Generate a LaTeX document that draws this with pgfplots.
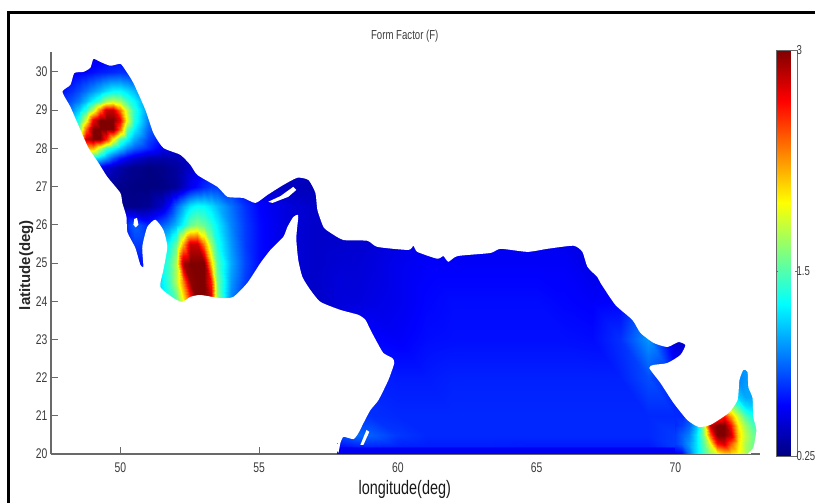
\documentclass[border=0pt]{standalone}
\usepackage{pgfplots}
\pgfplotsset{compat=1.18}
\usepackage{fontspec}
\setmainfont{Liberation Sans}
\newfontfamily\narrow[FakeStretch=0.74]{Liberation Sans}
\definecolor{tickgrey}{RGB}{60,60,60}
\definecolor{linegrey}{RGB}{105,105,105}
\begin{document}
\begin{tikzpicture}[x=1pt,y=1pt]
\path[use as bounding box] (0,0) rectangle (815,503);
\begin{axis}[
  at={(51pt,49pt)}, anchor=south west,
  scale only axis, width=709pt, height=402pt,
  xmin=47.5, xmax=73.05, ymin=20, ymax=30.52,
  axis x line*=bottom, axis y line*=left,
  axis line style={-, linegrey, line width=1.1pt},
  xtick={50,55,60,65,70}, ytick={20,21,...,30},
  tick align=inside, major tick length=7pt,
  tick style={linegrey, line width=0.8pt},
  /pgf/number format/assume math mode=true,
  tick label style={font=\narrow\fontsize{14}{15}\selectfont, text=tickgrey},
  xticklabel style={yshift=-5pt},
  yticklabel style={xshift=0pt},
  title={Form Factor (F)},
  title style={font=\narrow\fontsize{13}{14}\selectfont, text=tickgrey, at={(axis description cs:0.499,1.0246)}, anchor=center},
  xlabel={longitude(deg)},
  xlabel style={font=\narrow\fontsize{19.5}{21}\selectfont, text=black!90, at={(axis description cs:0.499,-0.087)}, anchor=center},
  ylabel={latitude(deg)},
  ylabel style={font=\bfseries\fontsize{15}{17}\selectfont, text=black!85, at={(axis description cs:-0.035,0.47)}, anchor=center},
  colormap/jet,
  point meta min=0.25, point meta max=3,
  colorbar,
  colorbar style={
    at={(1.0226,-0.005)}, anchor=south west,
    width=21pt, height=406pt,
    ytick={0.25,1.5,3}, yticklabels={0.25,1.5,3},
    ticklabel pos=right,
    tick align=inside, major tick length=2pt,
    axis line style={linegrey},
    tick style={linegrey},
    yticklabel style={font=\narrow\fontsize{13}{14}\selectfont, text=tickgrey, xshift=-4pt},
  },
]
% Arabian Sea
\addplot[surf, shader=interp, mesh/cols=13, point meta=explicit] table[x index=0, y index=1, meta index=2, row sep=\\] {
57.82 20 .56\\ 58.5 20 .56\\ 59 20 .56\\ 60 20 .56\\ 61 20 .56\\ 62 20 .56\\ 63 20 .56\\ 65 20 .56\\ 66 20 .56\\ 67 20 .56\\ 68 20 .56\\ 69 20 .56\\ 70 20 .56\\
57.82 20.17 .56\\ 58.5 20.17 .56\\ 59 20.17 .56\\ 60 20.17 .56\\ 61 20.17 .56\\ 62 20.17 .56\\ 63 20.17 .56\\ 65 20.17 .56\\ 66 20.17 .56\\ 67 20.17 .56\\ 68 20.17 .56\\ 69 20.17 .56\\ 70 20.17 .6\\
57.82 20.22 .62\\ 58.5 20.22 .68\\ 59 20.22 .7\\ 60 20.22 .68\\ 61 20.22 .67\\ 62 20.22 .67\\ 63 20.22 .67\\ 65 20.22 .66\\ 66 20.22 .66\\ 67 20.22 .66\\ 68 20.22 .66\\ 69 20.22 .66\\ 70 20.22 .75\\
57.82 20.5 .8\\ 58.5 20.5 .88\\ 59 20.5 .85\\ 60 20.5 .74\\ 61 20.5 .7\\ 62 20.5 .7\\ 63 20.5 .7\\ 65 20.5 .7\\ 66 20.5 .7\\ 67 20.5 .7\\ 68 20.5 .7\\ 69 20.5 .7\\ 70 20.5 .75\\
57.82 21 .72\\ 58.5 21 .72\\ 59 21 .72\\ 60 21 .7\\ 61 21 .7\\ 62 21 .7\\ 63 21 .7\\ 65 21 .7\\ 66 21 .7\\ 67 21 .7\\ 68 21 .7\\ 69 21 .7\\ 70 21 .7\\
57.82 22 .68\\ 58.5 22 .68\\ 59 22 .68\\ 60 22 .66\\ 61 22 .66\\ 62 22 .68\\ 63 22 .68\\ 65 22 .68\\ 66 22 .68\\ 67 22 .68\\ 68 22 .68\\ 69 22 .8\\ 70 22 .65\\
57.82 23 .6\\ 58.5 23 .6\\ 59 23 .6\\ 60 23 .58\\ 61 23 .62\\ 62 23 .63\\ 63 23 .63\\ 65 23 .63\\ 66 23 .63\\ 67 23 .62\\ 68 23 .72\\ 69 23 1\\ 70 23 .45\\
57.82 24 .5\\ 58.5 24 .5\\ 59 24 .52\\ 60 24 .55\\ 61 24 .6\\ 62 24 .62\\ 63 24 .62\\ 65 24 .62\\ 66 24 .6\\ 67 24 .58\\ 68 24 .6\\ 69 24 .7\\ 70 24 .7\\
57.82 25 .48\\ 58.5 25 .48\\ 59 25 .5\\ 60 25 .55\\ 61 25 .58\\ 62 25 .58\\ 63 25 .58\\ 65 25 .58\\ 66 25 .58\\ 67 25 .52\\ 68 25 .5\\ 69 25 .55\\ 70 25 .6\\
57.82 26 .45\\ 58.5 26 .45\\ 59 26 .45\\ 60 26 .48\\ 61 26 .5\\ 62 26 .52\\ 63 26 .52\\ 65 26 .52\\ 66 26 .52\\ 67 26 .5\\ 68 26 .55\\ 69 26 .6\\ 70 26 .6\\
};
% Gulf of Khambhat end
\addplot[surf, shader=interp, mesh/cols=13, point meta=explicit] table[x index=0, y index=1, meta index=2, row sep=\\] {
70 20 .56\\ 70.25 20 .6\\ 70.5 20 .9\\ 70.75 20 1.2\\ 71 20 1.45\\ 71.25 20 1.7\\ 71.5 20 1.9\\ 71.75 20 2.05\\ 72 20 2.05\\ 72.25 20 1.95\\ 72.5 20 1.75\\ 72.75 20 1.6\\ 73 20 1.55\\
70 20.25 .75\\ 70.25 20.25 .85\\ 70.5 20.25 1\\ 70.75 20.25 1.2\\ 71 20.25 1.5\\ 71.25 20.25 1.9\\ 71.5 20.25 2.6\\ 71.75 20.25 2.75\\ 72 20.25 2.4\\ 72.25 20.25 2.05\\ 72.5 20.25 1.75\\ 72.75 20.25 1.6\\ 73 20.25 1.55\\
70 20.5 .75\\ 70.25 20.5 .85\\ 70.5 20.5 .95\\ 70.75 20.5 1.2\\ 71 20.5 1.6\\ 71.25 20.5 2.4\\ 71.5 20.5 3\\ 71.75 20.5 3\\ 72 20.5 2.8\\ 72.25 20.5 2.1\\ 72.5 20.5 1.8\\ 72.75 20.5 1.6\\ 73 20.5 1.5\\
70 20.75 .7\\ 70.25 20.75 .75\\ 70.5 20.75 .85\\ 70.75 20.75 1.1\\ 71 20.75 1.7\\ 71.25 20.75 2.8\\ 71.5 20.75 3\\ 71.75 20.75 3\\ 72 20.75 2.6\\ 72.25 20.75 2\\ 72.5 20.75 1.7\\ 72.75 20.75 1.5\\ 73 20.75 1.45\\
70 21 .7\\ 70.25 21 .7\\ 70.5 21 .8\\ 70.75 21 1\\ 71 21 1.4\\ 71.25 21 2\\ 71.5 21 2.4\\ 71.75 21 2.6\\ 72 21 2.2\\ 72.25 21 1.8\\ 72.5 21 1.5\\ 72.75 21 1.35\\ 73 21 1.3\\
70 21.25 .7\\ 70.25 21.25 .7\\ 70.5 21.25 .75\\ 70.75 21.25 .9\\ 71 21.25 1.2\\ 71.25 21.25 1.5\\ 71.5 21.25 1.7\\ 71.75 21.25 1.8\\ 72 21.25 1.7\\ 72.25 21.25 1.45\\ 72.5 21.25 1.2\\ 72.75 21.25 1.15\\ 73 21.25 1.1\\
70 21.5 .7\\ 70.25 21.5 .7\\ 70.5 21.5 .7\\ 70.75 21.5 .85\\ 71 21.5 1\\ 71.25 21.5 1.2\\ 71.5 21.5 1.3\\ 71.75 21.5 1.3\\ 72 21.5 1.25\\ 72.25 21.5 1.15\\ 72.5 21.5 1.05\\ 72.75 21.5 1.05\\ 73 21.5 1.05\\
70 22 .65\\ 70.25 22 .7\\ 70.5 22 .7\\ 70.75 22 .8\\ 71 22 .9\\ 71.25 22 1\\ 71.5 22 1\\ 71.75 22 1\\ 72 22 1\\ 72.25 22 .95\\ 72.5 22 1\\ 72.75 22 1\\ 73 22 1\\
70 23 .45\\ 70.25 23 .45\\ 70.5 23 .45\\ 70.75 23 .8\\ 71 23 1\\ 71.25 23 1\\ 71.5 23 1\\ 71.75 23 1\\ 72 23 1\\ 72.25 23 1\\ 72.5 23 1\\ 72.75 23 1\\ 73 23 1\\
};
% Gulf, southern part
\addplot[surf, shader=interp, mesh/cols=19, point meta=explicit] table[x index=0, y index=1, meta index=2, row sep=\\] {
49.5 23.75 .5\\ 50 23.75 .55\\ 50.5 23.75 .7\\ 51 23.75 1\\ 51.5 23.75 1.2\\ 51.75 23.75 1.35\\ 52 23.75 1.5\\ 52.25 23.75 1.95\\ 52.5 23.75 2.5\\ 52.75 23.75 3\\ 53 23.75 3\\ 53.25 23.75 2.8\\ 53.5 23.75 1.7\\ 54 23.75 .95\\ 54.5 23.75 .7\\ 55 23.75 .6\\ 56 23.75 .5\\ 57 23.75 .45\\ 58 23.75 .5\\
49.5 24 .5\\ 50 24 .55\\ 50.5 24 .7\\ 51 24 1\\ 51.5 24 1.2\\ 51.75 24 1.35\\ 52 24 1.5\\ 52.25 24 1.95\\ 52.5 24 2.5\\ 52.75 24 3\\ 53 24 3\\ 53.25 24 2.8\\ 53.5 24 1.7\\ 54 24 .95\\ 54.5 24 .7\\ 55 24 .6\\ 56 24 .5\\ 57 24 .45\\ 58 24 .5\\
49.5 24.5 .5\\ 50 24.5 .55\\ 50.5 24.5 .7\\ 51 24.5 .9\\ 51.5 24.5 1.25\\ 51.75 24.5 1.45\\ 52 24.5 1.75\\ 52.25 24.5 2.3\\ 52.5 24.5 2.95\\ 52.75 24.5 3\\ 53 24.5 3\\ 53.25 24.5 2.6\\ 53.5 24.5 1.6\\ 54 24.5 1\\ 54.5 24.5 .75\\ 55 24.5 .6\\ 56 24.5 .5\\ 57 24.5 .45\\ 58 24.5 .5\\
49.5 25 .5\\ 50 25 .55\\ 50.5 25 .6\\ 51 25 .65\\ 51.5 25 1.3\\ 51.75 25 1.45\\ 52 25 1.75\\ 52.25 25 2.9\\ 52.5 25 3\\ 52.75 25 3\\ 53 25 3\\ 53.25 25 2.1\\ 53.5 25 1.5\\ 54 25 1.05\\ 54.5 25 .78\\ 55 25 .62\\ 56 25 .5\\ 57 25 .45\\ 58 25 .48\\
49.5 25.5 .5\\ 50 25.5 .6\\ 50.5 25.5 .75\\ 51 25.5 .75\\ 51.5 25.5 1.2\\ 51.75 25.5 1.3\\ 52 25.5 1.55\\ 52.25 25.5 2.2\\ 52.5 25.5 2.8\\ 52.75 25.5 2.8\\ 53 25.5 2.3\\ 53.25 25.5 1.7\\ 53.5 25.5 1.35\\ 54 25.5 1\\ 54.5 25.5 .75\\ 55 25.5 .62\\ 56 25.5 .5\\ 57 25.5 .45\\ 58 25.5 .46\\
49.5 26 .4\\ 50 26 .6\\ 50.5 26 .85\\ 51 26 .7\\ 51.5 26 .85\\ 51.75 26 .95\\ 52 26 1.1\\ 52.25 26 1.3\\ 52.5 26 1.55\\ 52.75 26 1.65\\ 53 26 1.55\\ 53.25 26 1.4\\ 53.5 26 1.25\\ 54 26 .95\\ 54.5 26 .75\\ 55 26 .62\\ 56 26 .5\\ 57 26 .45\\ 58 26 .45\\
49.5 26.5 .36\\ 50 26.5 .3\\ 50.5 26.5 .28\\ 51 26.5 .31\\ 51.5 26.5 .45\\ 51.75 26.5 .62\\ 52 26.5 .85\\ 52.25 26.5 1.05\\ 52.5 26.5 1.22\\ 52.75 26.5 1.3\\ 53 26.5 1.28\\ 53.25 26.5 1.2\\ 53.5 26.5 1.1\\ 54 26.5 .9\\ 54.5 26.5 .72\\ 55 26.5 .6\\ 56 26.5 .5\\ 57 26.5 .45\\ 58 26.5 .45\\
49.5 27 .33\\ 50 27 .28\\ 50.5 27 .26\\ 51 27 .25\\ 51.5 27 .26\\ 51.75 27 .28\\ 52 27 .32\\ 52.25 27 .42\\ 52.5 27 .55\\ 52.75 27 .62\\ 53 27 .7\\ 53.25 27 .75\\ 53.5 27 .75\\ 54 27 .7\\ 54.5 27 .6\\ 55 27 .5\\ 56 27 .42\\ 57 27 .4\\ 58 27 .4\\
49.5 27.5 .55\\ 50 27.5 .36\\ 50.5 27.5 .29\\ 51 27.5 .26\\ 51.5 27.5 .28\\ 51.75 27.5 .3\\ 52 27.5 .33\\ 52.25 27.5 .38\\ 52.5 27.5 .45\\ 52.75 27.5 .52\\ 53 27.5 .56\\ 53.25 27.5 .58\\ 53.5 27.5 .6\\ 54 27.5 .6\\ 54.5 27.5 .55\\ 55 27.5 .5\\ 56 27.5 .45\\ 57 27.5 .4\\ 58 27.5 .4\\
49.5 28 1.5\\ 50 28 1.15\\ 50.5 28 .85\\ 51 28 .7\\ 51.5 28 .55\\ 51.75 28 .5\\ 52 28 .45\\ 52.25 28 .45\\ 52.5 28 .45\\ 52.75 28 .5\\ 53 28 .5\\ 53.25 28 .5\\ 53.5 28 .5\\ 54 28 .5\\ 54.5 28 .5\\ 55 28 .5\\ 56 28 .45\\ 57 28 .4\\ 58 28 .4\\
};
% Gulf, northern part
\addplot[surf, shader=interp, mesh/cols=14, point meta=explicit] table[x index=0, y index=1, meta index=2, row sep=\\] {
47.85 27 .5\\ 48.25 27 .5\\ 48.5 27 .5\\ 48.75 27 .45\\ 49 27 .4\\ 49.25 27 .36\\ 49.5 27 .33\\ 49.75 27 .3\\ 50 27 .28\\ 50.25 27 .27\\ 50.5 27 .26\\ 51 27 .25\\ 51.5 27 .26\\ 52 27 .32\\
47.85 27.5 .7\\ 48.25 27.5 .75\\ 48.5 27.5 .8\\ 48.75 27.5 .85\\ 49 27.5 .7\\ 49.25 27.5 .58\\ 49.5 27.5 .48\\ 49.75 27.5 .42\\ 50 27.5 .36\\ 50.25 27.5 .31\\ 50.5 27.5 .29\\ 51 27.5 .26\\ 51.5 27.5 .28\\ 52 27.5 .33\\
47.85 27.75 .85\\ 48.25 27.75 .9\\ 48.5 27.75 1.1\\ 48.75 27.75 1.2\\ 49 27.75 1.25\\ 49.25 27.75 1.15\\ 49.5 27.75 1\\ 49.75 27.75 .8\\ 50 27.75 .65\\ 50.25 27.75 .55\\ 50.5 27.75 .47\\ 51 27.75 .38\\ 51.5 27.75 .36\\ 52 27.75 .38\\
47.85 28 .9\\ 48.25 28 1.15\\ 48.5 28 1.6\\ 48.75 28 2.2\\ 49 28 2.2\\ 49.25 28 1.8\\ 49.5 28 1.48\\ 49.75 28 1.32\\ 50 28 1.15\\ 50.25 28 .97\\ 50.5 28 .85\\ 51 28 .7\\ 51.5 28 .55\\ 52 28 .45\\
47.85 28.25 .95\\ 48.25 28.25 1.28\\ 48.5 28.25 2\\ 48.75 28.25 2.8\\ 49 28.25 3\\ 49.25 28.25 3\\ 49.5 28.25 2.6\\ 49.75 28.25 2\\ 50 28.25 1.5\\ 50.25 28.25 1.28\\ 50.5 28.25 1.05\\ 51 28.25 .78\\ 51.5 28.25 .62\\ 52 28.25 .5\\
47.85 28.5 .93\\ 48.25 28.5 1.26\\ 48.5 28.5 1.55\\ 48.75 28.5 2.4\\ 49 28.5 3\\ 49.25 28.5 3\\ 49.5 28.5 3\\ 49.75 28.5 3\\ 50 28.5 2.4\\ 50.25 28.5 1.55\\ 50.5 28.5 1.26\\ 51 28.5 .87\\ 51.5 28.5 .67\\ 52 28.5 .55\\
47.85 28.75 .85\\ 48.25 28.75 1.1\\ 48.5 28.75 1.38\\ 48.75 28.75 1.9\\ 49 28.75 2.7\\ 49.25 28.75 3\\ 49.5 28.75 3\\ 49.75 28.75 3\\ 50 28.75 2.7\\ 50.25 28.75 1.9\\ 50.5 28.75 1.38\\ 51 28.75 .93\\ 51.5 28.75 .71\\ 52 28.75 .57\\
47.85 29 .77\\ 48.25 29 .97\\ 48.5 29 1.15\\ 48.75 29 1.4\\ 49 29 1.8\\ 49.25 29 2.35\\ 49.5 29 2.8\\ 49.75 29 2.8\\ 50 29 2.35\\ 50.25 29 1.8\\ 50.5 29 1.4\\ 51 29 .97\\ 51.5 29 .73\\ 52 29 .58\\
47.85 29.25 .69\\ 48.25 29.25 .83\\ 48.5 29.25 .93\\ 48.75 29.25 1.1\\ 49 29.25 1.28\\ 49.25 29.25 1.45\\ 49.5 29.25 1.7\\ 49.75 29.25 1.8\\ 50 29.25 1.7\\ 50.25 29.25 1.45\\ 50.5 29.25 1.28\\ 51 29.25 .93\\ 51.5 29.25 .74\\ 52 29.25 .6\\
47.85 29.5 .62\\ 48.25 29.5 .72\\ 48.5 29.5 .8\\ 48.75 29.5 .9\\ 49 29.5 1\\ 49.25 29.5 1.1\\ 49.5 29.5 1.2\\ 49.75 29.5 1.28\\ 50 29.5 1.28\\ 50.25 29.5 1.2\\ 50.5 29.5 1.1\\ 51 29.5 .9\\ 51.5 29.5 .72\\ 52 29.5 .6\\
47.85 30 .52\\ 48.25 30 .55\\ 48.5 30 .58\\ 48.75 30 .6\\ 49 30 .63\\ 49.25 30 .66\\ 49.5 30 .68\\ 49.75 30 .7\\ 50 30 .72\\ 50.25 30 .7\\ 50.5 30 .68\\ 51 30 .6\\ 51.5 30 .55\\ 52 30 .5\\
47.85 30.5 .45\\ 48.25 30.5 .47\\ 48.5 30.5 .48\\ 48.75 30.5 .5\\ 49 30.5 .5\\ 49.25 30.5 .52\\ 49.5 30.5 .55\\ 49.75 30.5 .55\\ 50 30.5 .55\\ 50.25 30.5 .55\\ 50.5 30.5 .52\\ 51 30.5 .5\\ 51.5 30.5 .45\\ 52 30.5 .45\\
};
% land, painted over the field
\addplot[fill=white, draw=none, forget plot, smooth, tension=0.35] coordinates {
(47.8,20.3) (57.3,20.3) (57.72,20.22) (57.85,20.03) (57.93,20.29) (58.04,20.45) (58.40,20.39) (58.58,20.55) (58.76,20.81) (59.01,21.15) (59.30,21.41) (59.66,21.94) (59.87,22.38) (59.80,22.51) (59.48,22.64) (59.26,22.91) (59.01,23.25) (58.83,23.51) (58.58,23.64) (57.93,23.77) (57.21,23.98) (56.85,24.29) (56.56,24.63) (56.41,25.08) (56.34,25.65) (56.41,26.20) (56.38,26.26) (56.23,26.20) (56.02,25.94) (55.87,25.68) (55.41,25.34) (55.05,25.00) (54.58,24.48) (54.07,24.11) (53.60,24.08) (52.88,24.16) (52.52,24.11) (52.23,23.98) (51.91,24.08) (51.44,24.37) (51.55,24.82) (51.69,25.42) (51.55,25.86) (51.26,26.13) (50.97,25.94) (50.79,25.42) (50.83,24.90) (50.72,24.95) (50.54,25.39) (50.25,25.81) (50.22,26.20) (50.07,26.57) (50.00,26.83) (49.53,27.25) (49.21,27.62) (48.85,28.01) (48.56,28.48) (48.20,29.08) (47.91,29.48) (48.20,29.66) (48.34,29.97) (48.67,30.00) (48.92,30.11) (49.03,30.34) (49.28,30.26) (49.64,30.16) (50.00,30.21) (50.18,30.05) (50.47,29.71) (50.90,29.01) (51.19,28.40) (51.55,28.01) (52.16,27.83) (52.52,27.57) (52.78,27.30) (53.50,26.99) (53.86,26.73) (54.43,26.70) (54.87,26.57) (55.30,26.78) (55.87,27.04) (56.38,27.23) (56.78,27.17) (57.03,26.83) (57.10,26.39) (57.32,25.94) (57.57,25.79) (58.04,25.60) (58.90,25.58) (59.26,25.42) (60.38,25.34) (60.56,25.45) (60.70,25.29) (61.42,25.11) (61.64,25.18) (61.82,25.03) (62.15,25.18) (63.33,25.26) (63.70,25.37) (64.67,25.29) (65.39,25.37) (66.33,25.45) (66.65,25.29) (66.83,24.90) (67.19,24.63) (67.30,24.48) (67.84,23.90) (68.45,23.51) (68.74,23.17) (69.21,22.91) (69.71,22.80) (70.11,22.93) (70.36,22.85) (70.18,22.59) (69.71,22.38) (69.21,22.33) (69.06,22.25) (69.46,21.86) (69.93,21.34) (70.43,20.89) (70.83,20.71) (71.26,20.76) (71.91,21.07) (72.24,21.41) (72.31,21.94) (72.45,22.20) (72.60,22.15) (72.63,21.75) (72.78,21.47) (72.81,20.97) (72.92,20.63) (72.81,20.16) (72.63,20) (73.5,20) (73.5,31) (47.8,31)
} -- cycle;
% islands
\addplot[fill=white, draw=none, forget plot] coordinates {(55.33,26.60) (55.77,26.75) (56.23,26.99) (56.34,26.91) (56.05,26.73) (55.48,26.57)} -- cycle;
\addplot[fill=white, draw=none, forget plot] coordinates {(50.5,26.15) (50.6,26.18) (50.65,26.0) (50.55,25.93) (50.47,26.0)} -- cycle;
\addplot[fill=white, draw=none, forget plot] coordinates {(58.65,20.24) (58.76,20.24) (58.97,20.58) (58.87,20.63)} -- cycle;
% stub of the x axis line east of the coast
\addplot[linegrey, line width=1.1pt, forget plot] coordinates {(72.72,20) (73.05,20)};
\end{axis}
% page frame
\draw[black, line width=3pt] (8.5,0) -- (8.5,490) -- (815,490);
\end{tikzpicture}
\end{document}
